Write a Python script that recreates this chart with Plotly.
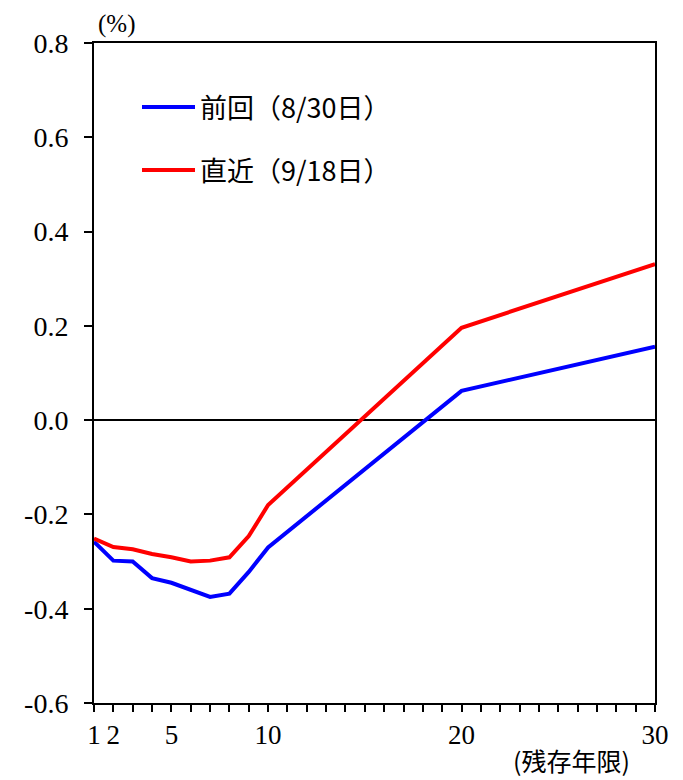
import plotly.graph_objects as go

years = [1, 2, 3, 4, 5, 6, 7, 8, 9, 10, 20, 30]
prev_830 = [-0.258, -0.298, -0.300, -0.335, -0.345, -0.359, -0.375, -0.368, -0.322, -0.270, 0.062, 0.156]
latest_918 = [-0.251, -0.269, -0.274, -0.284, -0.291, -0.300, -0.298, -0.291, -0.246, -0.180, 0.196, 0.331]

x_labeled = [1, 2, 5, 10, 20, 30]
y_ticks = [0.8, 0.6, 0.4, 0.2, 0.0, -0.2, -0.4, -0.6]
y_ticktext = ["0.8", "0.6", "0.4", "0.2", "0.0", "-0.2", "-0.4", "-0.6"]
names = ["前回（8/30日）", "直近（9/18日）"]
colors = ["#0000FF", "#FF0000"]

serif = "Liberation Serif, DejaVu Serif, serif"
cjk = "Noto Sans CJK JP, sans-serif"

fig = go.Figure()
for vals, nm, col in zip([prev_830, latest_918], names, colors):
    fig.add_trace(go.Scatter(x=years, y=vals, mode="lines", name=nm,
                             line=dict(color=col, width=4), showlegend=False))

xt = list(range(1, 31))
xtt = [str(v) if v in x_labeled else "" for v in xt]

fig.update_xaxes(range=[1, 30], tickvals=xt, ticktext=xtt, ticks="outside", ticklen=7,
                 tickwidth=2, tickcolor="black", showline=True, linecolor="black", linewidth=2,
                 mirror=True, showgrid=False, zeroline=False,
                 tickfont=dict(family=serif, size=27, color="black"))
fig.update_yaxes(range=[-0.6, 0.8], tickvals=y_ticks, ticktext=y_ticktext, ticks="outside",
                 ticklen=8, tickwidth=2, tickcolor="black", showline=True, linecolor="black",
                 linewidth=2, mirror=True, showgrid=False, zeroline=True, zerolinecolor="black",
                 zerolinewidth=2, ticklabelstandoff=10,
                 tickfont=dict(family=serif, size=28, color="black"))

# legend drawn manually
leg_y = [107, 170]
for i, (nm, col) in enumerate(zip(names, colors)):
    yp = 1 - (leg_y[i] - 43) / 660
    fig.add_shape(type="line", xref="paper", yref="paper",
                  x0=(142 - 94) / 561, x1=(195 - 94) / 561, y0=yp, y1=yp,
                  line=dict(color=col, width=4))
    fig.add_annotation(xref="paper", yref="paper", x=(198 - 94) / 561, y=yp, text=nm,
                       showarrow=False, xanchor="left", yanchor="middle",
                       font=dict(family=cjk, size=27, color="black"))

fig.add_annotation(xref="paper", yref="paper", x=(116 - 94) / 561, y=1 + (43 - 24) / 660,
                   text="(%)", showarrow=False, xanchor="center", yanchor="middle",
                   font=dict(family=serif, size=25, color="black"))
fig.add_annotation(xref="paper", yref="paper", x=(571 - 94) / 561, y=-(760 - 703) / 660,
                   text="(残存年限)", showarrow=False, xanchor="center", yanchor="middle",
                   font=dict(family=cjk, size=25, color="black"))

# page body has an 8px margin: figure shrunk and margins shifted so the plot lands in place
fig.update_layout(width=675, height=772, margin=dict(l=86, r=28, t=35, b=77),
                  plot_bgcolor="white", paper_bgcolor="white", showlegend=False)

fig.write_html("out.html")
